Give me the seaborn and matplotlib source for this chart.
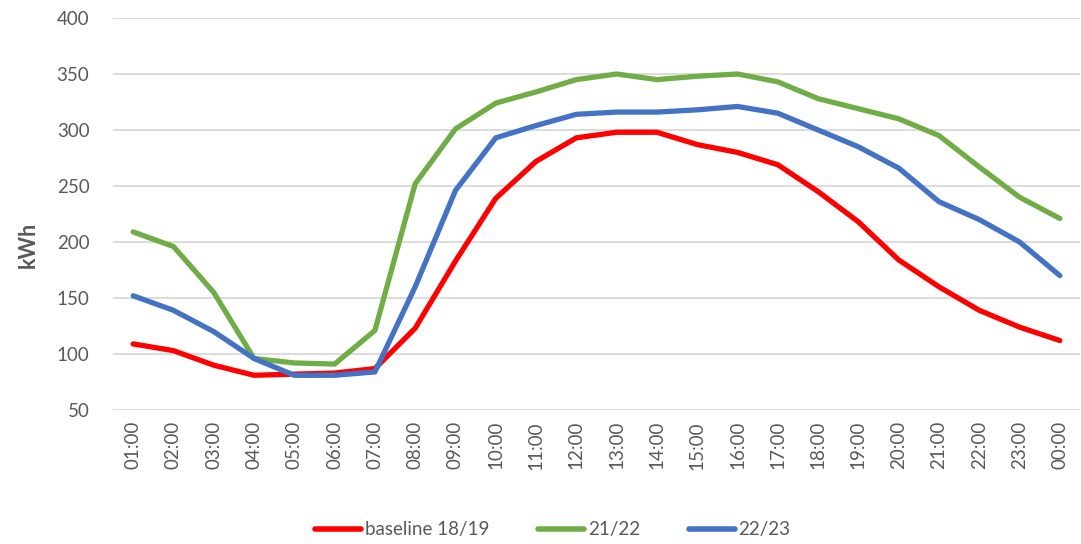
import matplotlib
matplotlib.use("Agg")
import matplotlib.pyplot as plt
import seaborn as sns
import pandas as pd

hours = ["01:00", "02:00", "03:00", "04:00", "05:00", "06:00", "07:00", "08:00",
         "09:00", "10:00", "11:00", "12:00", "13:00", "14:00", "15:00", "16:00",
         "17:00", "18:00", "19:00", "20:00", "21:00", "22:00", "23:00", "00:00"]
baseline_18_19 = [109, 103, 90, 81, 82, 83, 87, 123, 183, 239, 272, 293, 298, 298,
                  287, 280, 269, 245, 218, 184, 160, 139, 124, 112]
y21_22 = [209, 196, 155, 96, 92, 91, 121, 252, 301, 324, 334, 345, 350, 345,
          348, 350, 343, 328, 319, 310, 295, 267, 240, 221]
y22_23 = [152, 139, 120, 96, 81, 81, 84, 160, 246, 293, 304, 314, 316, 316,
          318, 321, 315, 300, 285, 266, 236, 220, 200, 170]
series_names = ["baseline 18/19", "21/22", "22/23"]
colors = ["#FF0000", "#70AD47", "#4472C4"]

df = pd.concat([
    pd.DataFrame({"hour": hours, "kWh": vals, "series": name})
    for name, vals in zip(series_names, [baseline_18_19, y21_22, y22_23])
], ignore_index=True)

sns.set_theme(style="white")
plt.rcParams["font.family"] = ["Lato", "DejaVu Sans"]
text_color = "#595959"

fig = plt.figure(figsize=(10.81, 5.44), dpi=100)
ax = fig.add_axes([113 / 1081, 1 - 410 / 544, (1080 - 113) / 1081, (410 - 18) / 544])

sns.lineplot(data=df, x="hour", y="kWh", hue="series", hue_order=series_names,
             palette=colors, linewidth=3.8, sort=False, ax=ax, legend=False)

ax.set_xlim(-0.5, len(hours) - 0.5)
ax.set_ylim(50, 400)
ax.set_yticks(range(50, 401, 50))
ax.grid(axis="y", color="#D9D9D9", linewidth=1.3)
ax.grid(axis="x", visible=False)
for s in ax.spines.values():
    s.set_visible(False)
ax.tick_params(axis="both", length=0, colors=text_color, labelsize=13.5)
ax.tick_params(axis="y", pad=17)
ax.tick_params(axis="x", pad=8)
plt.setp(ax.get_xticklabels(), rotation=90)
ax.set_xlabel("")
ax.set_ylabel("")
fig.text(28 / 1081, 1 - 245 / 544, "kWh", rotation=90, ha="center", va="center",
         fontsize=15.5, fontweight="bold", color=text_color)

handles = [plt.Line2D([], [], color=c, linewidth=4) for c in colors]
fig.legend(handles, series_names, loc="center", bbox_to_anchor=(553 / 1081, 1 - 530 / 544),
           ncol=3, frameon=False, fontsize=13.5, handlelength=2.45, handletextpad=0.2,
           columnspacing=2.6, labelcolor=text_color)

fig.savefig("out.png", dpi=100)
